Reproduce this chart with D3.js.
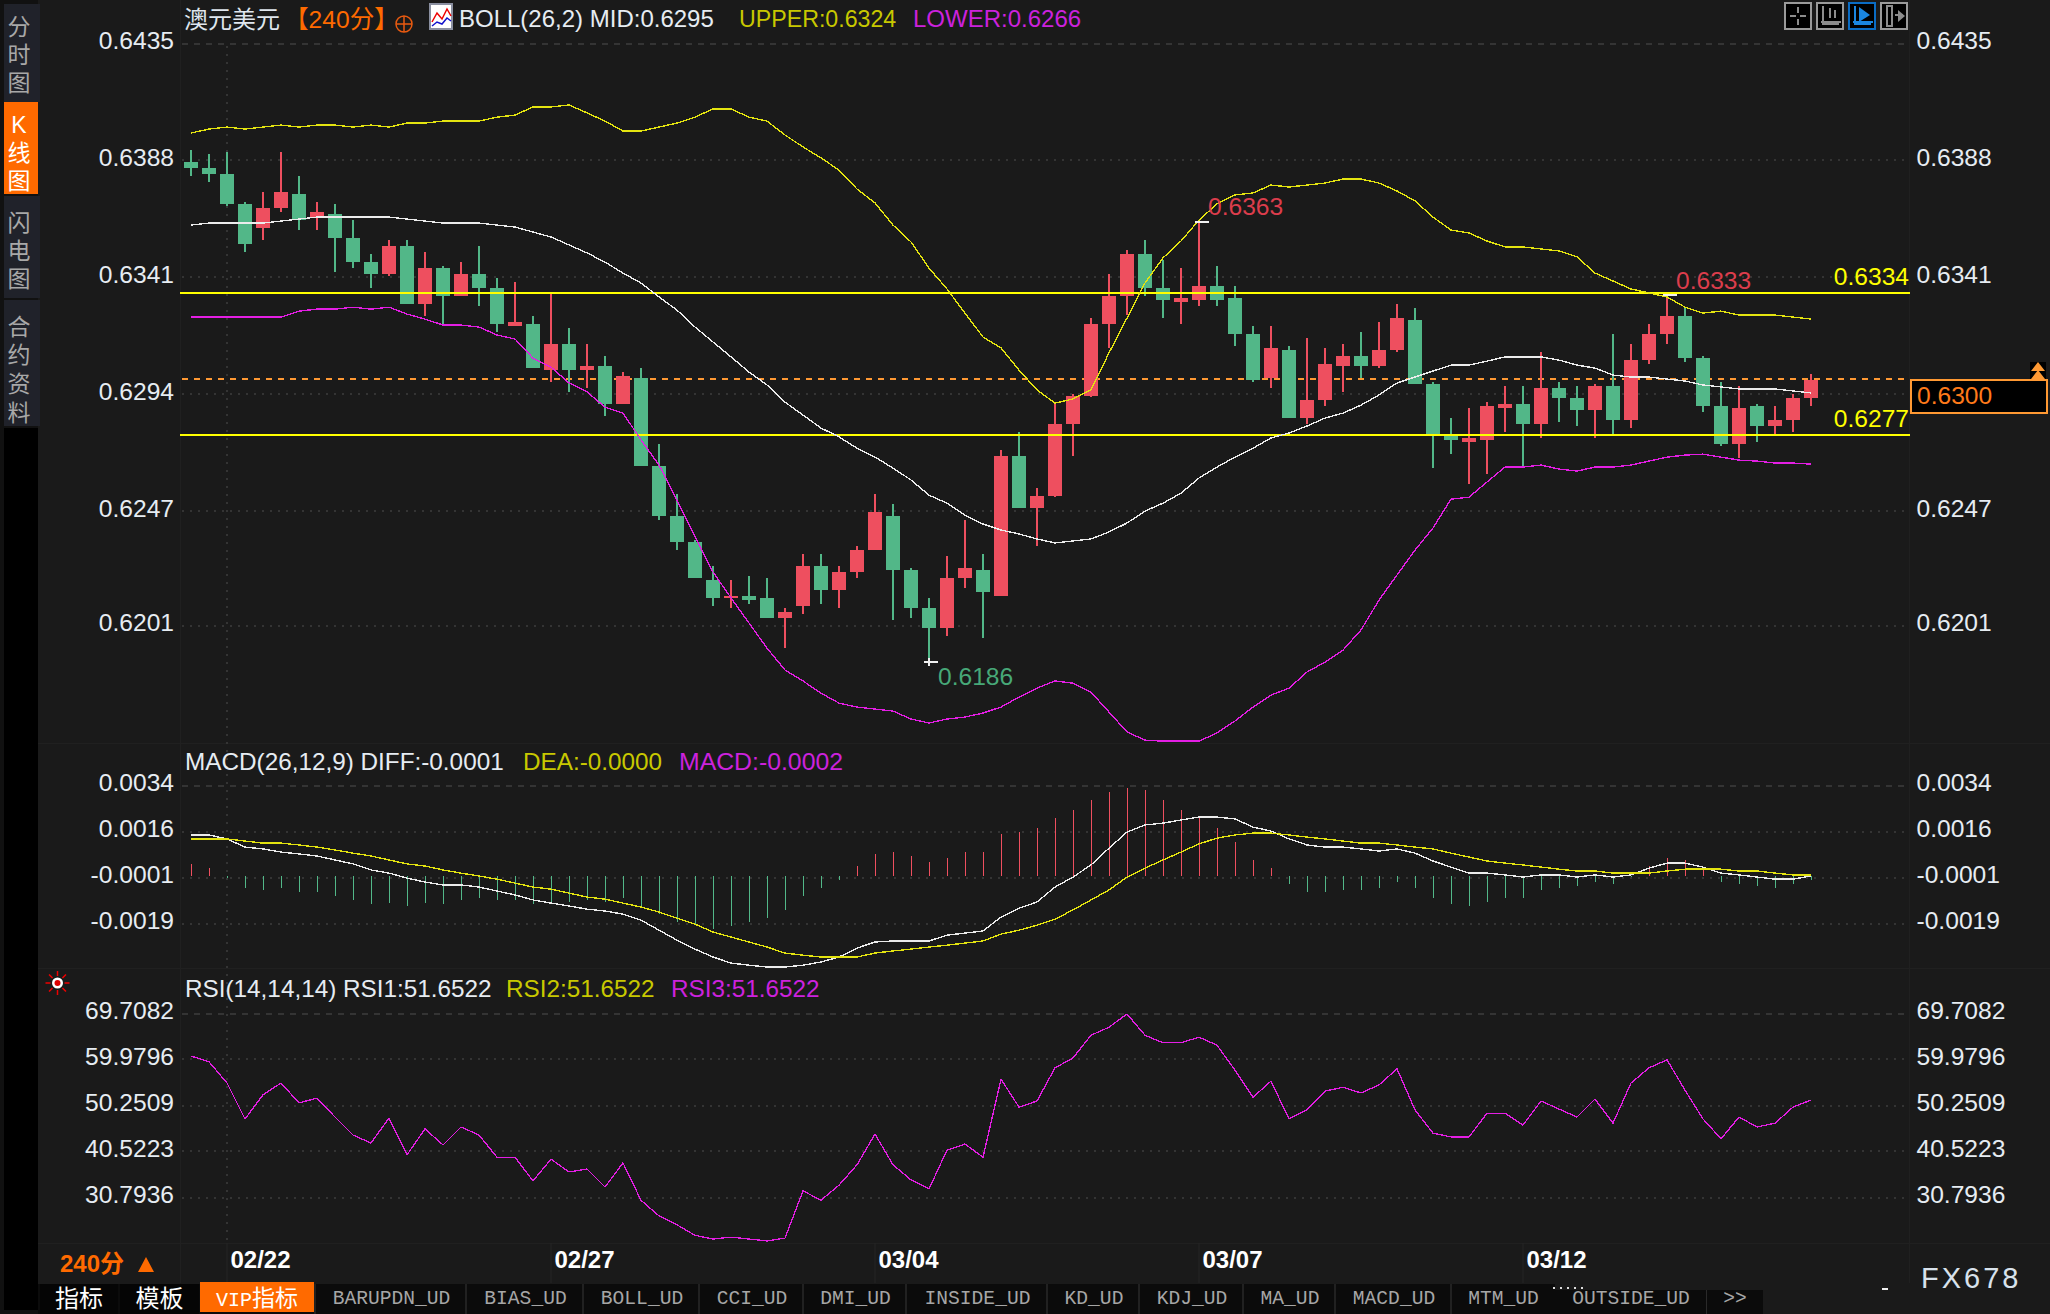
<!DOCTYPE html>
<html><head><meta charset="utf-8">
<script src="https://cdn.jsdelivr.net/npm/d3@7"></script>
<style>
html,body{margin:0;padding:0;background:#1a1a1a;overflow:hidden}
svg{display:block}
text{font-family:"Liberation Sans",Arial,sans-serif}
.cjk{font-family:"Liberation Sans","Noto Sans CJK SC",sans-serif}
.mono{font-family:"Liberation Mono",monospace}
</style></head><body>
<script>
const openP=[.63872,.63848,.63823,.63703,.63606,.63686,.63743,.63646,.63662,.63566,.63469,.63421,.63534,.63301,.63445,.63333,.63421,.63365,.63212,.63220,.63035,.63140,.63035,.63051,.62898,.63003,.62649,.62448,.62344,.62191,.62119,.62127,.62119,.62038,.62086,.62247,.62151,.62223,.62311,.62448,.62231,.62078,.61998,.62199,.62231,.62127,.62689,.62480,.62528,.62818,.62931,.63220,.63333,.63502,.63365,.63309,.63317,.63373,.63325,.63180,.63003,.63116,.62842,.62915,.63051,.63092,.63051,.63116,.63236,.62979,.62770,.62746,.62754,.62882,.62898,.62818,.62963,.62923,.62874,.62971,.62834,.63075,.63180,.63252,.63083,.62890,.62738,.62890,.62810,.62834,.62923];
const highP=[.63920,.63904,.63912,.63711,.63751,.63912,.63815,.63711,.63703,.63638,.63502,.63558,.63558,.63510,.63453,.63469,.63534,.63405,.63389,.63252,.63341,.63204,.63140,.63092,.63027,.63043,.62738,.62537,.62352,.62247,.62191,.62207,.62199,.62078,.62295,.62295,.62247,.62328,.62537,.62496,.62239,.62119,.62287,.62432,.62295,.62713,.62786,.62561,.62902,.62939,.63244,.63421,.63518,.63558,.63478,.63445,.63630,.63453,.63373,.63212,.63212,.63132,.63164,.63124,.63140,.63188,.63228,.63301,.63284,.62987,.62842,.62882,.62906,.62971,.62971,.63108,.62987,.62971,.62979,.63180,.63140,.63220,.63337,.63284,.63092,.62987,.62971,.62898,.62890,.62939,.63019];
const lowP=[.63815,.63791,.63694,.63510,.63558,.63670,.63598,.63598,.63429,.63445,.63365,.63413,.63301,.63252,.63220,.63333,.63293,.63188,.63212,.63043,.62987,.62947,.62963,.62850,.62898,.62649,.62432,.62311,.62199,.62086,.62078,.62094,.62038,.61917,.62054,.62094,.62078,.62199,.62311,.62030,.62038,.61860,.61966,.62159,.61958,.62127,.62480,.62328,.62524,.62689,.62927,.63124,.63256,.63333,.63244,.63220,.63293,.63293,.63132,.62987,.62963,.62842,.62818,.62890,.62947,.63003,.63043,.63108,.62979,.62641,.62697,.62577,.62617,.62786,.62649,.62762,.62826,.62810,.62762,.62774,.62802,.63059,.63140,.63067,.62866,.62730,.62681,.62746,.62778,.62786,.62890];
const closeP=[.63848,.63823,.63703,.63542,.63686,.63751,.63638,.63670,.63566,.63469,.63421,.63534,.63301,.63445,.63333,.63421,.63365,.63220,.63228,.63043,.63140,.63035,.63051,.62898,.63011,.62649,.62448,.62344,.62199,.62119,.62127,.62110,.62038,.62062,.62247,.62151,.62223,.62311,.62464,.62231,.62078,.61998,.62199,.62239,.62143,.62689,.62480,.62528,.62818,.62931,.63220,.63333,.63502,.63365,.63317,.63325,.63373,.63317,.63180,.62995,.63124,.62842,.62915,.63059,.63092,.63051,.63116,.63244,.62979,.62770,.62754,.62762,.62890,.62898,.62818,.62963,.62923,.62874,.62971,.62834,.63075,.63180,.63252,.63083,.62890,.62738,.62882,.62810,.62834,.62923,.62995];
const bollUpper=[.63988,.64004,.64012,.64004,.64012,.64020,.64012,.64020,.64020,.64012,.64020,.64012,.64028,.64028,.64036,.64036,.64036,.64052,.64060,.64093,.64093,.64101,.64069,.64036,.63996,.63996,.64012,.64028,.64052,.64085,.64085,.64052,.64036,.63980,.63932,.63888,.63839,.63763,.63707,.63618,.63550,.63445,.63361,.63264,.63168,.63124,.63035,.62955,.62902,.62919,.62955,.63104,.63244,.63385,.63486,.63554,.63638,.63703,.63739,.63747,.63779,.63771,.63779,.63787,.63803,.63803,.63787,.63755,.63715,.63650,.63598,.63586,.63554,.63530,.63530,.63522,.63514,.63490,.63425,.63393,.63361,.63345,.63329,.63288,.63264,.63272,.63256,.63256,.63256,.63248,.63240];
const bollMid=[.63618,.63626,.63626,.63626,.63626,.63634,.63642,.63650,.63650,.63650,.63650,.63650,.63642,.63634,.63626,.63626,.63626,.63618,.63610,.63590,.63570,.63538,.63506,.63469,.63425,.63385,.63329,.63276,.63208,.63148,.63088,.63027,.62975,.62906,.62854,.62802,.62766,.62721,.62685,.62641,.62593,.62532,.62500,.62452,.62416,.62392,.62376,.62356,.62340,.62348,.62356,.62384,.62420,.62468,.62500,.62540,.62601,.62645,.62685,.62721,.62762,.62782,.62810,.62842,.62862,.62894,.62935,.62983,.63007,.63031,.63055,.63055,.63071,.63088,.63088,.63088,.63075,.63055,.63043,.63015,.63007,.63007,.62999,.62991,.62975,.62967,.62959,.62959,.62959,.62951,.62943];
const bollLower=[.63248,.63248,.63248,.63248,.63248,.63248,.63272,.63280,.63280,.63288,.63280,.63288,.63260,.63240,.63216,.63216,.63208,.63176,.63160,.63083,.63047,.62983,.62947,.62886,.62862,.62754,.62653,.62512,.62364,.62223,.62119,.62018,.61917,.61829,.61785,.61736,.61696,.61680,.61672,.61664,.61632,.61616,.61632,.61640,.61656,.61680,.61720,.61756,.61785,.61776,.61740,.61660,.61580,.61547,.61543,.61543,.61543,.61576,.61624,.61680,.61728,.61756,.61821,.61861,.61909,.61990,.62110,.62211,.62311,.62400,.62516,.62524,.62585,.62645,.62645,.62653,.62637,.62629,.62645,.62645,.62653,.62669,.62685,.62693,.62697,.62685,.62673,.62669,.62661,.62661,.62657];
const macdHist=[.00046,.00030,-.00008,-.00046,-.00053,-.00046,-.00061,-.00061,-.00076,-.00091,-.00107,-.00103,-.00114,-.00103,-.00107,-.00091,-.00084,-.00091,-.00091,-.00107,-.00107,-.00099,-.00091,-.00099,-.00084,-.00114,-.00145,-.00175,-.00186,-.00202,-.00190,-.00175,-.00160,-.00129,-.00076,-.00046,-.00015,.00038,.00084,.00091,.00076,.00053,.00068,.00091,.00091,.00160,.00167,.00183,.00221,.00251,.00289,.00320,.00335,.00327,.00289,.00251,.00221,.00183,.00129,.00061,.00030,-.00030,-.00061,-.00061,-.00053,-.00053,-.00046,-.00023,-.00046,-.00084,-.00107,-.00114,-.00099,-.00084,-.00084,-.00053,-.00046,-.00038,-.00023,-.00030,-.00004,.00038,.00068,.00061,.00023,-.00023,-.00030,-.00038,-.00046,-.00030,-.00015];
const macdDiff=[.00155,.00155,.00140,.00109,.00102,.00090,.00083,.00075,.00060,.00045,.00022,.00010,-.00009,-.00024,-.00035,-.00035,-.00043,-.00058,-.00073,-.00092,-.00104,-.00115,-.00127,-.00134,-.00146,-.00169,-.00207,-.00245,-.00279,-.00309,-.00332,-.00340,-.00347,-.00347,-.00340,-.00328,-.00309,-.00275,-.00252,-.00248,-.00248,-.00248,-.00226,-.00218,-.00210,-.00157,-.00123,-.00100,-.00043,-.00005,.00041,.00105,.00166,.00193,.00200,.00212,.00223,.00223,.00216,.00185,.00170,.00140,.00117,.00109,.00109,.00102,.00094,.00102,.00086,.00056,.00033,.00010,.00010,.00003,-.00005,.00003,.00003,-.00005,.00003,-.00005,.00003,.00029,.00048,.00048,.00033,.00010,.00003,-.00005,-.00013,-.00013,-.00001];
const macdDea=[.00140,.00140,.00140,.00132,.00124,.00124,.00117,.00109,.00098,.00086,.00075,.00060,.00045,.00037,.00022,.00010,-.00001,-.00013,-.00028,-.00043,-.00051,-.00066,-.00081,-.00089,-.00104,-.00119,-.00138,-.00161,-.00184,-.00214,-.00233,-.00252,-.00271,-.00294,-.00302,-.00309,-.00309,-.00309,-.00294,-.00286,-.00279,-.00271,-.00264,-.00256,-.00248,-.00222,-.00207,-.00188,-.00165,-.00130,-.00092,-.00054,-.00005,.00029,.00060,.00090,.00121,.00143,.00155,.00162,.00162,.00155,.00147,.00140,.00132,.00124,.00124,.00117,.00109,.00102,.00086,.00071,.00056,.00048,.00041,.00033,.00025,.00018,.00018,.00010,.00010,.00010,.00018,.00025,.00025,.00025,.00018,.00018,.00010,.00003,.00003];
const rsi=[60.6,59.4,54.9,47.3,52.4,54.9,50.7,51.7,47.7,43.9,42.2,47.5,39.7,45.2,41.8,45.6,43.9,39.2,39.2,34.2,38.8,36.1,36.7,32.9,38.0,30.1,26.8,24.9,22.7,21.9,22.3,21.9,21.5,22.1,32.1,30.1,33.3,37.6,44.1,37.6,34.4,32.5,40.7,42.0,39.2,55.7,49.8,51.1,58.1,60.2,65.0,66.7,69.5,65.0,63.4,63.4,64.6,62.9,57.6,51.9,55.3,47.3,49.2,53.2,54.0,52.8,54.5,57.9,49.2,44.3,43.5,43.5,48.5,48.5,46.0,51.1,49.4,47.7,51.5,46.4,54.9,58.1,59.8,53.4,47.3,43.1,47.7,45.6,46.4,49.8,51.3];
const priceTicks=[0.6435,0.6388,0.6341,0.6294,0.6247,0.6201];
const macdTickValues=[0.00345,0.0017,-0.00005,-0.0018];
const macdTickLabels=["0.0034","0.0016","-0.0001","-0.0019"];
const rsiTicks=[69.7082,59.9796,50.2509,40.5223,30.7936];
const dateIndex=[2,20,38,56,74];
const dateLabels=["02/22","02/27","03/04","03/07","03/12"];
const resistance=0.63345, support=0.62774, lastPrice=0.6300;
const tabLabels=["BARUPDN_UD","BIAS_UD","BOLL_UD","CCI_UD","DMI_UD","INSIDE_UD","KD_UD","KDJ_UD","MA_UD","MACD_UD","MTM_UD"];
const tabEdges=[316,467,584,700,804,907,1048,1140,1244,1336,1452,1555];

const W=2050,H=1314,BG="#1a1a1a",RED="#ee4f5f",GREEN="#52b788",
 YEL="#e4e410",WHITE="#ececec",MAG="#e41ee4",GRID="#343434",TXT="#e6ecf2";
const L=182,R=1908;
const svg=d3.select("body").append("svg").attr("width",W).attr("height",H).attr("viewBox",`0 0 ${W} ${H}`);
svg.append("rect").attr("width",W).attr("height",H).attr("fill",BG);

const x=d3.scaleLinear().domain([0,90]).range([191,1811]);
const yP=d3.scaleLinear().domain([0.6435,0.6201]).range([43,625]);
const yM=d3.scaleLinear().domain([0.00345,-0.00185]).range([785,924.4]);
const yR=d3.scaleLinear().domain([69.7082,30.7936]).range([1013,1197]);
const idx=d3.range(91);

function txt(g,s,px,py,o={}){
  return g.append("text").attr("x",px).attr("y",py).text(s)
   .attr("fill",o.fill||TXT).attr("font-size",o.size||24.3)
   .attr("font-weight",o.weight||null).attr("text-anchor",o.anchor||"start")
   .attr("letter-spacing",o.ls||null).attr("class",o.cls||null);
}
// ---- panel frames
const frame=svg.append("g").attr("stroke","#202020").attr("fill","none");
[743,968,1243].forEach(v=>frame.append("line").attr("x1",38).attr("x2",W).attr("y1",v+.5).attr("y2",v+.5));
frame.append("line").attr("x1",180.5).attr("x2",180.5).attr("y1",0).attr("y2",1283);
frame.append("line").attr("x1",1909.5).attr("x2",1909.5).attr("y1",0).attr("y2",1283);

// ---- grids and axes through d3.axis
function gridAxis(scale,vals,labels){
  const g=svg.append("g").attr("transform",`translate(${L},0)`)
    .call(d3.axisRight(scale).tickValues(vals).tickSize(R-L).tickFormat(""));
  g.select(".domain").remove();
  g.selectAll("line").attr("stroke",GRID).attr("stroke-width",2).attr("shape-rendering","crispEdges")
    .attr("stroke-dasharray",(d,i)=>i===0?"6,6":"2,6");
  const fmt=(d,i)=>labels[i];
  [[d3.axisLeft,174],[d3.axisRight,1916.5]].forEach(([ax,px])=>{
    const a=svg.append("g").attr("transform",`translate(${px},0)`)
      .call(ax(scale).tickValues(vals).tickSize(0).tickPadding(0).tickFormat(fmt));
    a.select(".domain").remove();
    a.selectAll("text").attr("fill",TXT).attr("font-size",24.6).attr("font-family","Liberation Sans").attr("dy","0.24em");
  });
}
gridAxis(yP,priceTicks,priceTicks.map(d=>d.toFixed(4)));
gridAxis(yM,macdTickValues,macdTickLabels);
gridAxis(yR,rsiTicks,rsiTicks.map(d=>d.toFixed(4)));
svg.append("line").attr("x1",x(2)).attr("x2",x(2)).attr("y1",46).attr("y2",1243)
  .attr("stroke",GRID).attr("stroke-width",2).attr("stroke-dasharray","2,6").attr("shape-rendering","crispEdges");

// ---- main panel: last-price line, levels
svg.append("line").attr("x1",L).attr("x2",R+2).attr("y1",yP(lastPrice)).attr("y2",yP(lastPrice))
  .attr("stroke","#ff9933").attr("stroke-width",2).attr("stroke-dasharray","6,6").attr("shape-rendering","crispEdges");

// ---- candles
const c=svg.append("g").attr("shape-rendering","crispEdges");
const col=i=>closeP[i]>=openP[i]?RED:GREEN;
c.selectAll(".wick").data(idx).join("rect").attr("class","wick")
  .attr("x",i=>x(i)-1).attr("width",2)
  .attr("y",i=>yP(highP[i])).attr("height",i=>yP(lowP[i])-yP(highP[i])).attr("fill",col);
c.selectAll(".body").data(idx).join("rect").attr("class","body")
  .attr("x",i=>x(i)-7).attr("width",14)
  .attr("y",i=>yP(Math.max(openP[i],closeP[i])))
  .attr("height",i=>Math.max(2,Math.abs(yP(openP[i])-yP(closeP[i])))).attr("fill",col);

// ---- level lines (over candles)
[resistance,support].forEach(v=>svg.append("line").attr("x1",180).attr("x2",R+2)
  .attr("y1",yP(v)).attr("y2",yP(v)).attr("stroke","#ffff00").attr("stroke-width",2).attr("shape-rendering","crispEdges"));

// ---- lines
function path(g,scale,arr,color,w){
  g.append("path").datum(arr).attr("fill","none").attr("stroke",color).attr("stroke-width",w)
   .attr("shape-rendering","crispEdges").attr("stroke-linejoin","round")
   .attr("d",d3.line().x((d,i)=>x(i)).y(d=>scale(d)));
}
const lines=svg.append("g");
path(lines,yP,bollUpper,YEL,1.35);
path(lines,yP,bollMid,WHITE,1.35);
path(lines,yP,bollLower,MAG,1.35);

// ---- extreme markers and labels
const mk=svg.append("g").attr("stroke","#f0f0f0").attr("stroke-width",2).attr("shape-rendering","crispEdges");
[[56,highP],[82,highP]].forEach(([i,a])=>mk.append("line").attr("x1",x(i)-4).attr("x2",x(i)+10).attr("y1",yP(a[i])).attr("y2",yP(a[i])));
mk.append("line").attr("x1",x(41)-5).attr("x2",x(41)+9).attr("y1",yP(lowP[41])).attr("y2",yP(lowP[41]));
mk.append("line").attr("x1",x(41)).attr("x2",x(41)).attr("y1",yP(lowP[41])-4).attr("y2",yP(lowP[41])+4);
txt(svg,"0.6363",1208,215,{fill:"#dc3d4c",size:24.6});
txt(svg,"0.6333",1676,289,{fill:"#dc3d4c",size:24.6});
txt(svg,"0.6186",938,685,{fill:"#47a878",size:24.6});
txt(svg,"0.6334",1909,285,{fill:"#ffff00",size:24.6,anchor:"end"});
txt(svg,"0.6277",1909,427,{fill:"#ffff00",size:24.6,anchor:"end"});

// ---- last price box
svg.append("rect").attr("x",1911).attr("y",380).attr("width",136).attr("height",33).attr("fill","#000").attr("stroke","#ff9933").attr("stroke-width",2);
txt(svg,"0.6300",1917,404,{fill:"#ff7a1a",size:24.6});
svg.append("rect").attr("x",2030).attr("y",362).attr("width",16).attr("height",17).attr("fill","#000");
svg.append("path").attr("d","M2038 362l7 9h-14zM2038 370l7 9h-14z").attr("fill","#ff9933");

// ---- MACD
const h=svg.append("g").attr("shape-rendering","crispEdges");
h.selectAll("rect").data(idx).join("rect").attr("x",i=>x(i)).attr("width",1)
  .attr("y",i=>Math.min(yM(0),yM(macdHist[i]))).attr("height",i=>Math.abs(yM(macdHist[i])-yM(0)))
  .attr("fill",i=>macdHist[i]>=0?RED:GREEN);
path(svg,yM,macdDiff,WHITE,1.35);
path(svg,yM,macdDea,YEL,1.35);

// ---- RSI
path(svg,yR,rsi,MAG,1.3);

// ---- dates
const ax=svg.append("g").attr("transform","translate(0,1268)")
  .call(d3.axisBottom(d3.scaleOrdinal().domain(dateIndex).range(dateIndex.map(x))).tickValues(dateIndex).tickSize(0).tickPadding(0).tickFormat((d,i)=>dateLabels[i]));
ax.select(".domain").remove();
ax.selectAll("text").attr("fill","#fff").attr("font-size",24).attr("font-weight","bold").attr("font-family","Liberation Sans")
  .attr("text-anchor","start").attr("x",3).attr("y",0).attr("dy",0);
const sep=svg.append("g").attr("stroke","#242424");
dateIndex.forEach(i=>sep.append("line").attr("x1",x(i)).attr("x2",x(i)).attr("y1",1243).attr("y2",1283));
txt(svg,"240分",60,1272,{fill:"#ff6a00",size:24,weight:"bold",cls:"cjk"});
svg.append("path").attr("d","M146 1257l8 15h-16z").attr("fill","#ff6a00");

// ---- header rows
txt(svg,"澳元美元",184,28,{size:24,cls:"cjk",fill:"#dfe6ee"});
txt(svg,"【240分】",284,28,{size:24.6,cls:"cjk",fill:"#ff6a00"});
const ic=svg.append("g").attr("stroke","#e85a10").attr("fill","none").attr("stroke-width",1.5);
ic.append("circle").attr("cx",404).attr("cy",24).attr("r",8);
ic.append("line").attr("x1",396).attr("x2",412).attr("y1",24).attr("y2",24);
ic.append("line").attr("x1",404).attr("x2",404).attr("y1",16).attr("y2",32);
svg.append("rect").attr("x",430).attr("y",4).attr("width",22).attr("height",25).attr("fill","#fff").attr("stroke","#8a8fa0").attr("stroke-width",2);
svg.append("path").attr("d","M432 22l5-9 5 6 5-10 4 7").attr("fill","none").attr("stroke","#e00").attr("stroke-width",1.5);
svg.append("path").attr("d","M432 26l5-4 5 2 5-6 4 3").attr("fill","none").attr("stroke","#11c").attr("stroke-width",1.5);
txt(svg,"BOLL(26,2) MID:0.6295",459,27,{size:24});
txt(svg,"UPPER:0.6324",739,27,{fill:"#c8c800",size:23.2});
txt(svg,"LOWER:0.6266",913,27,{fill:"#cc22dd",size:24});
txt(svg,"MACD(26,12,9) DIFF:-0.0001",185,770);
txt(svg,"DEA:-0.0000",523,770,{fill:"#c8c800"});
txt(svg,"MACD:-0.0002",679,770,{fill:"#cc22dd",size:24.8});
txt(svg,"RSI(14,14,14) RSI1:51.6522",185,997);
txt(svg,"RSI2:51.6522",506,997,{fill:"#c8c800"});
txt(svg,"RSI3:51.6522",671,997,{fill:"#cc22dd"});

// ---- toolbar icons
[[1785,"#9a9a9a"],[1817,"#9a9a9a"],[1849,"#0a6cc4"],[1881,"#9a9a9a"]].forEach(([px,cl],k)=>{
  svg.append("rect").attr("x",px).attr("y",3).attr("width",26).attr("height",26).attr("fill","#000").attr("stroke",cl).attr("stroke-width",2);
  const g=svg.append("g").attr("stroke",k===2?"#1a86e0":"#8c8c8c").attr("stroke-width",2).attr("fill","none");
  if(k===0){g.append("path").attr("d",`M${px+13} 7v6M${px+13} 19v6M${px+5} 16h6M${px+15} 16h6`);}
  if(k===1){g.append("path").attr("d",`M${px+6} 6v18h16M${px+4} 22h20M${px+13} 8v10M${px+18} 10v8`);}
  if(k===2){g.append("path").attr("d",`M${px+6} 6v18h16M${px+4} 22h20`);svg.append("path").attr("d",`M${px+10} 7l11 8-11 7z`).attr("fill","#1a86e0");}
  if(k===3){g.append("path").attr("d",`M${px+6} 6h5v20h-5zM${px+14} 15h8`);svg.append("path").attr("d",`M${px+17} 10l7 6-7 6z`).attr("fill","#8c8c8c");}
});

// ---- left vertical tabs
svg.append("rect").attr("x",0).attr("y",0).attr("width",38).attr("height",1314).attr("fill","#111");
svg.append("rect").attr("x",4).attr("y",428).attr("width",34).attr("height",882).attr("fill","#000");
[[4,98,"#20222a",36],[196,102,"#20222a",36],[300,126,"#20222a",36],[102,92,"#ff6a00",34]].forEach(([yy,hh,f,w])=>
  svg.append("rect").attr("x",4).attr("y",yy).attr("width",w).attr("height",hh).attr("fill",f));
[["分",35],["时",63],["图",91],["闪",231],["电",259],["图",287],["合",335],["约",363],["资",392],["料",421]].forEach(([s,yy])=>
  txt(svg,s,19,yy,{size:23,cls:"cjk",fill:"#a8a8a8",anchor:"middle"}));
[["K",133],["线",161],["图",189]].forEach(([s,yy])=>txt(svg,s,19,yy,{size:23,cls:"cjk",fill:"#fff",anchor:"middle"}));

// ---- alert icon
const al=svg.append("g").attr("transform","translate(57.5,983)");
d3.range(8).forEach(k=>{const a=k*Math.PI/4;al.append("line").attr("x1",7*Math.cos(a)).attr("y1",7*Math.sin(a)).attr("x2",12*Math.cos(a)).attr("y2",12*Math.sin(a)).attr("stroke","#e00").attr("stroke-width",1.5);});
al.append("circle").attr("r",5.5).attr("fill","#fff");
al.append("circle").attr("r",3).attr("fill","#d00");

// ---- bottom tabs
svg.append("rect").attr("x",38).attr("y",1284).attr("width",1517).attr("height",30).attr("fill","#0b0b0b");
svg.append("rect").attr("x",1555).attr("y",1290).attr("width",208).attr("height",24).attr("fill","#0b0b0b");
const tabY=1304;
[[40,78,"指标"],[120,79,"模板"]].forEach(([px,w,s])=>{
  svg.append("rect").attr("x",px).attr("y",1284).attr("width",w).attr("height",30).attr("fill","#050505");
  txt(svg,s,px+w/2,1307,{size:24,cls:"cjk",fill:"#fff",anchor:"middle"});
});
svg.append("rect").attr("x",200).attr("y",1282).attr("width",114).attr("height",30).attr("fill","#ff6a00");
const vip=txt(svg,"",257,1306,{size:23,cls:"cjk",fill:"#fff",anchor:"middle"});
vip.append("tspan").attr("class","mono").attr("font-size",20).text("VIP");
vip.append("tspan").text("指标");
const tabs=svg.append("g");
tabLabels.forEach((s,k)=>{
  const a=tabEdges[k],b=tabEdges[k+1];
  tabs.append("line").attr("x1",a-1).attr("x2",a-1).attr("y1",1284).attr("y2",1314).attr("stroke","#2a2a2a").attr("stroke-width",1.5);
  txt(tabs,s,(a+b)/2,tabY,{size:19.6,cls:"mono",fill:"#a6a6a6",anchor:"middle"});
});
txt(svg,"OUTSIDE_UD",1631,tabY,{size:19.6,cls:"mono",fill:"#a6a6a6",anchor:"middle"});
txt(svg,">>",1735,tabY,{size:19.6,cls:"mono",fill:"#a6a6a6",anchor:"middle"});
svg.append("line").attr("x1",1706.5).attr("x2",1706.5).attr("y1",1290).attr("y2",1314).attr("stroke","#2a2a2a");
svg.append("line").attr("x1",1553).attr("x2",1587).attr("y1",1288).attr("y2",1288).attr("stroke","#ddd").attr("stroke-width",2).attr("stroke-dasharray","2,5");
txt(svg,"FX678",1921,1288,{size:29,fill:"#d8e2ec",ls:3});
svg.append("rect").attr("x",1882).attr("y",1288).attr("width",6).attr("height",2).attr("fill","#eee");
</script>
</body></html>
